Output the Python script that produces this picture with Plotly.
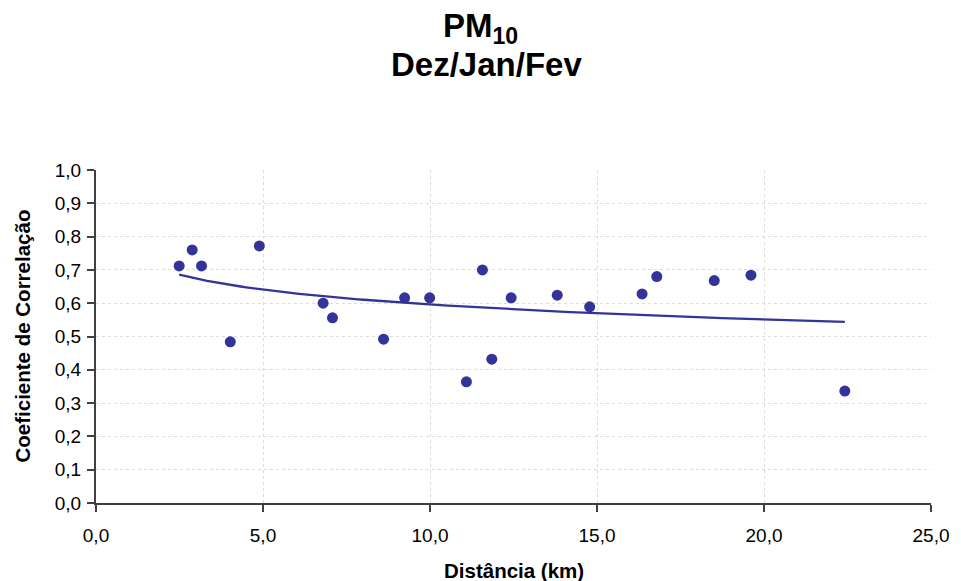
import numpy as np
import plotly.graph_objects as go

# Data
distancia_km = [2.49, 2.88, 3.16, 4.02, 4.89, 6.80, 7.08, 8.61, 9.24, 9.99, 11.09,
                11.57, 11.85, 12.43, 13.81, 14.78, 16.35, 16.79, 18.51, 19.61, 22.42]
correlacao = [0.712, 0.760, 0.712, 0.484, 0.772, 0.600, 0.556, 0.492, 0.616, 0.616, 0.364,
              0.700, 0.432, 0.616, 0.624, 0.589, 0.628, 0.680, 0.668, 0.684, 0.336]

x_ticks = [0, 5, 10, 15, 20, 25]
y_ticks = [0.0, 0.1, 0.2, 0.3, 0.4, 0.5, 0.6, 0.7, 0.8, 0.9, 1.0]

# Logarithmic trendline (least squares on ln x), as Excel computes it
xa = np.array(distancia_km)
ya = np.array(correlacao)
b, a = np.polyfit(np.log(xa), ya, 1)
trend_x = np.linspace(xa.min(), xa.max(), 120)
trend_y = a + b * np.log(trend_x)

COLOR = "#333399"
FONT = "Liberation Sans, Arial, sans-serif"

fig = go.Figure()
fig.add_trace(go.Scatter(x=trend_x, y=trend_y, mode="lines",
                         line=dict(color=COLOR, width=2.3), hoverinfo="skip",
                         showlegend=False))
fig.add_trace(go.Scatter(x=distancia_km, y=correlacao, mode="markers",
                         marker=dict(color=COLOR, size=11, line=dict(width=0)),
                         showlegend=False))

axis_common = dict(
    showline=True, linecolor="#404040", linewidth=2,
    ticks="outside", ticklen=7, tickwidth=1.5, tickcolor="#404040",
    showgrid=True, gridcolor="#dcdcdc", gridwidth=1, griddash="dot",
    zeroline=False, tickfont=dict(family=FONT, size=19, color="black"),
    tickformat=".1f", fixedrange=True,
)

fig.update_layout(
    width=961, height=581,
    margin=dict(l=96, r=27, t=170, b=78),
    paper_bgcolor="white", plot_bgcolor="white",
    separators=",.",
    xaxis=dict(range=[0, 25], tickvals=x_ticks, ticklabelstandoff=7, **axis_common),
    yaxis=dict(range=[0, 1], tickvals=y_ticks, ticklabelstandoff=2, **axis_common),
    annotations=[
        dict(text="<b>PM<sub>10</sub></b>", xref="paper", yref="paper",
             x=0.4605, y=1.425, xanchor="center", yanchor="middle", showarrow=False,
             font=dict(family=FONT, size=33, color="black")),
        dict(text="<b>Dez/Jan/Fev</b>", xref="paper", yref="paper",
             x=0.4675, y=1.318, xanchor="center", yanchor="middle", showarrow=False,
             font=dict(family=FONT, size=33, color="black")),
        dict(text="<b>Distância (km)</b>", xref="paper", yref="paper",
             x=0.5, y=0, yshift=-67, xanchor="center", yanchor="middle", showarrow=False,
             font=dict(family=FONT, size=20.5, color="black")),
        dict(text="<b>Coeficiente de Correlação</b>", xref="paper", yref="paper",
             x=0, xshift=-74, y=0.5, xanchor="center", yanchor="middle", showarrow=False,
             textangle=-90, font=dict(family=FONT, size=20.5, color="black")),
    ],
)

fig.write_html("out.html", config={"displayModeBar": False},
               post_script="document.body.style.margin='0';document.body.style.overflow='hidden';")
